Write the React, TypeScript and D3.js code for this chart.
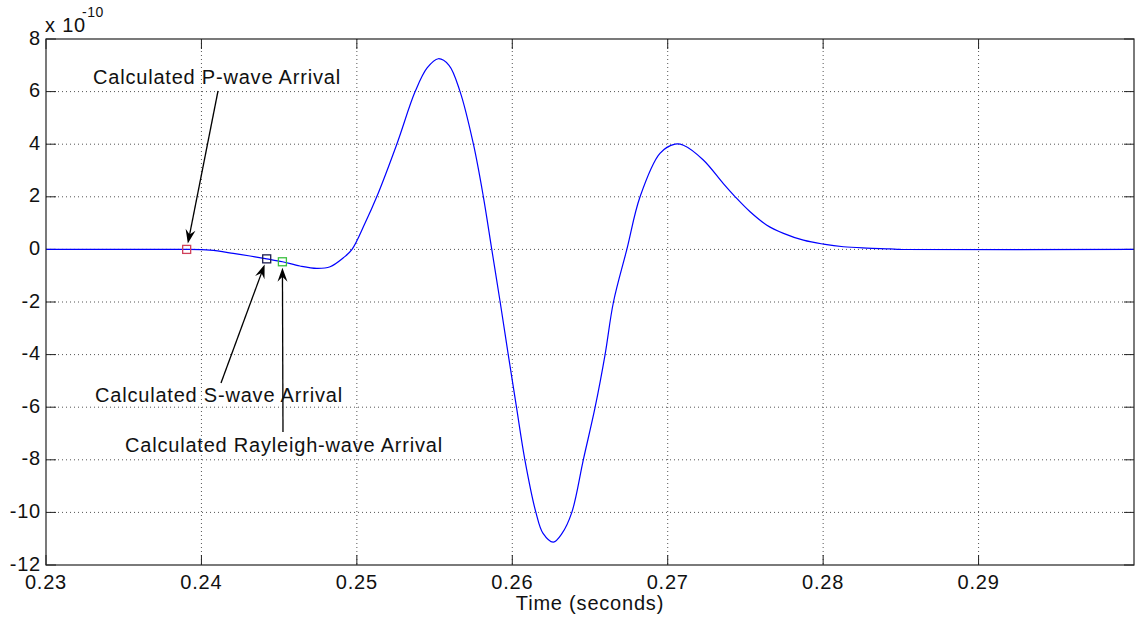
import React from "react";
import * as d3 from "d3";

// ---- Data (time in seconds, amplitude in units of 1e-10) ----
const timeValues = [
  0.23, 0.2389, 0.23905, 0.24055, 0.24205, 0.24313, 0.2442, 0.24521, 0.24634,
  0.24742, 0.24828, 0.24913, 0.24969, 0.25053, 0.25128, 0.25257, 0.25375,
  0.25452, 0.25524, 0.25593, 0.25664, 0.2575, 0.25814, 0.25868, 0.25922,
  0.25974, 0.26027, 0.26081, 0.26152, 0.26198, 0.26264, 0.2632, 0.26383,
  0.26457, 0.26533, 0.26597, 0.26651, 0.26737, 0.26822, 0.2695, 0.27047,
  0.27101, 0.27229, 0.27358, 0.27434, 0.2753, 0.27638, 0.27745, 0.27873,
  0.28002, 0.28131, 0.28281, 0.28431, 0.285, 0.3,
];
const ampValues = [
  0, 0, 0, -0.03, -0.15, -0.25, -0.36, -0.47, -0.63, -0.72, -0.66, -0.32, 0,
  1.0, 2.0, 4.0, 6.0, 6.9, 7.25, 7.0, 6.0, 4.0, 2.0, 0, -2, -4, -6, -8, -10,
  -10.8, -11.13, -10.8, -10, -8, -6, -4, -2, 0, 2, 3.65, 4.0, 3.96, 3.4, 2.5,
  2.0, 1.43, 0.92, 0.61, 0.35, 0.2, 0.1, 0.05, 0.02, 0, 0,
];

const arrivalLabels = [
  "Calculated P-wave Arrival",
  "Calculated S-wave Arrival",
  "Calculated Rayleigh-wave Arrival",
];
const arrivalTimes = [0.23905, 0.2442, 0.24521];
const arrivalAmps = [0, -0.36, -0.47];
const arrivalColors = ["#d0405a", "#1c1c50", "#3cc040"];

const xTicks = [0.23, 0.24, 0.25, 0.26, 0.27, 0.28, 0.29];
const yTicks = [-12, -10, -8, -6, -4, -2, 0, 2, 4, 6, 8];

// ---- Layout ----
const W = 1139;
const H = 624;
const left = 46;
const right = 1134;
const top = 39;
const bottom = 565;

// annotation layout (pixels)
const labelPos = [
  { x: 93, y: 84 },
  { x: 95, y: 402 },
  { x: 125, y: 452 },
];
const arrowTails = [
  { x: 218, y: 91 },
  { x: 221, y: 383 },
  { x: 283, y: 432 },
];

const FONT = "Arial, 'Liberation Sans', Helvetica, sans-serif";

export default function App() {
  const x = d3.scaleLinear().domain([0.23, 0.3]).range([left, right]);
  const y = d3.scaleLinear().domain([-12, 8]).range([bottom, top]);

  const pts: [number, number][] = timeValues.map((t, i) => [t, ampValues[i]]);
  const line = d3
    .line<[number, number]>()
    .x((d) => x(d[0]))
    .y((d) => y(d[1]))
    .curve(d3.curveCatmullRom.alpha(0.5));

  const tickLen = 10;

  const arrows = arrivalTimes.map((t, i) => {
    const mx = x(t);
    const my = y(arrivalAmps[i]);
    const tail = arrowTails[i];
    let dx = mx - tail.x;
    let dy = my - tail.y;
    const len = Math.hypot(dx, dy);
    dx /= len;
    dy /= len;
    const tip = { x: mx - dx * 6, y: my - dy * 6 };
    const L = 14;
    const Wd = 10;
    const nx = -dy;
    const ny = dx;
    const head = [
      [tip.x, tip.y],
      [tip.x - dx * L + (nx * Wd) / 2, tip.y - dy * L + (ny * Wd) / 2],
      [tip.x - dx * L * 0.65, tip.y - dy * L * 0.65],
      [tip.x - dx * L - (nx * Wd) / 2, tip.y - dy * L - (ny * Wd) / 2],
    ]
      .map((p) => p.join(","))
      .join(" ");
    return { tail, tip, head, back: { x: tip.x - dx * L * 0.6, y: tip.y - dy * L * 0.6 } };
  });

  return (
    <svg
      width={W}
      height={H}
      style={{ position: "absolute", left: 0, top: 0, background: "#fff" }}
      fontFamily={FONT}
    >
      <rect x={0} y={0} width={W} height={H} fill="#fff" />
      {/* grid */}
      <g stroke="#555" strokeWidth={1} strokeDasharray="1 3">
        {xTicks.slice(1).map((t) => (
          <line key={"gx" + t} x1={x(t)} x2={x(t)} y1={top} y2={bottom} />
        ))}
        {yTicks.slice(1, -1).map((v) => (
          <line key={"gy" + v} x1={left} x2={right} y1={y(v)} y2={y(v)} />
        ))}
      </g>
      {/* ticks */}
      <g stroke="#222" strokeWidth={1}>
        {xTicks.map((t) => (
          <g key={"tx" + t}>
            <line x1={x(t)} x2={x(t)} y1={bottom} y2={bottom - tickLen} />
            <line x1={x(t)} x2={x(t)} y1={top} y2={top + tickLen} />
          </g>
        ))}
        {yTicks.map((v) => (
          <g key={"ty" + v}>
            <line x1={left} x2={left + tickLen} y1={y(v)} y2={y(v)} />
            <line x1={right} x2={right - tickLen} y1={y(v)} y2={y(v)} />
          </g>
        ))}
      </g>
      {/* curve */}
      <path d={line(pts) || ""} fill="none" stroke="#0000ff" strokeWidth={1.2} />
      {/* box */}
      <rect
        x={left}
        y={top}
        width={right - left}
        height={bottom - top}
        fill="none"
        stroke="#222"
        strokeWidth={1.2}
      />
      {/* tick labels */}
      <g fontSize={20} letterSpacing={0.8} fill="#111">
        {xTicks.map((t) => (
          <text key={"lx" + t} x={x(t)} y={589} textAnchor="middle">
            {d3.format(".2f")(t)}
          </text>
        ))}
        {yTicks.map((v) => (
          <text key={"ly" + v} x={41} y={y(v) + 5.5} textAnchor="end">
            {String(v)}
          </text>
        ))}
        <text x={45} y={32}>x 10</text>
        <text x={82} y={17} fontSize={14} letterSpacing={0.5}>-10</text>
        <text x={(left + right) / 2} y={610} textAnchor="middle">
          Time (seconds)
        </text>
      </g>
      {/* markers */}
      {arrivalTimes.map((t, i) => (
        <rect
          key={"m" + i}
          x={x(t) - 4}
          y={y(arrivalAmps[i]) - 4}
          width={8}
          height={8}
          fill="none"
          stroke={arrivalColors[i]}
          strokeWidth={1.3}
        />
      ))}
      {/* arrows */}
      {arrows.map((a, i) => (
        <g key={"a" + i}>
          <line
            x1={a.tail.x}
            y1={a.tail.y}
            x2={a.back.x}
            y2={a.back.y}
            stroke="#000"
            strokeWidth={1.3}
          />
          <polygon points={a.head} fill="#000" />
        </g>
      ))}
      {/* labels */}
      <g fontSize={20} letterSpacing={0.8} fill="#111">
        {arrivalLabels.map((s, i) => (
          <text key={"al" + i} x={labelPos[i].x} y={labelPos[i].y}>
            {s}
          </text>
        ))}
      </g>
    </svg>
  );
}
